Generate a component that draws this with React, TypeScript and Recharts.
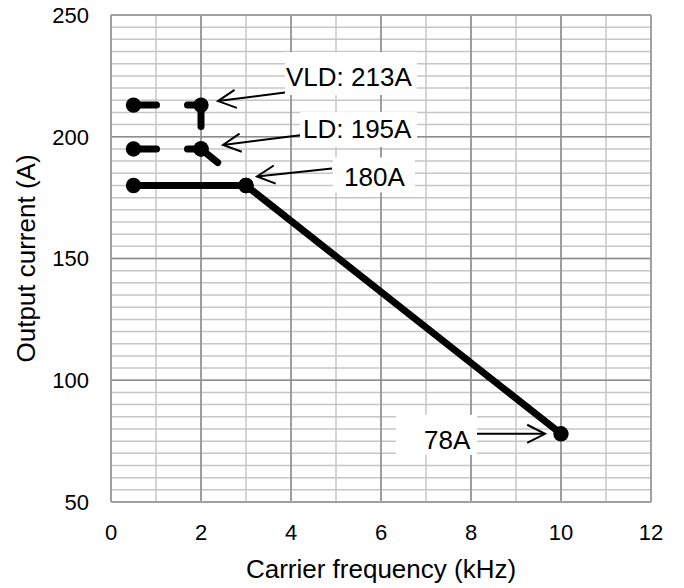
import { CartesianGrid, Line, LineChart, ReferenceDot, XAxis, YAxis } from "recharts";

// carrier frequency (kHz) vs output current (A)
const ratedFreq = [0.5, 3, 10];
const ratedCurrent = [180, 180, 78];
const ldFreq = [0.5, 2, 3];
const ldCurrent = [195, 195, 180];
const vldFreq = [0.5, 2, 2];
const vldCurrent = [213, 213, 195];

const xTicks = [0, 2, 4, 6, 8, 10, 12];
const yTicks = [50, 100, 150, 200, 250];

const calloutText = ["VLD: 213A", "LD: 195A", "180A", "78A"];
const calloutFreq = [2, 2, 3, 10];
const calloutCurrent = [213, 195, 180, 78];

const toRows = (xs: number[], ys: number[]) => xs.map((f, i) => ({ freq: f, current: ys[i] }));
const rated = toRows(ratedFreq, ratedCurrent);
const ld = toRows(ldFreq, ldCurrent);
const vld = toRows(vldFreq, vldCurrent);

// grid: 1 kHz / 5 A minor, 2 kHz / 50 A major
const minorX = Array.from({ length: 13 }, (_, i) => i);
const minorY = Array.from({ length: 41 }, (_, i) => 50 + i * 5);
const majorX = [2, 4, 6, 8, 10];
const majorY = [100, 150, 200];

const FONT = "'Liberation Sans', Arial, sans-serif";
const INK = "#000000";

// callout layout, pixel offsets from the pointed-at dot
type Layout = {
  tip: [number, number];
  tail: [number, number];
  box: [number, number, number, number];
  textAt: [number, number];
};
const layouts: Layout[] = [
  { tip: [17, -4], tail: [84, -12.5], box: [84, -53, 132, 43], textAt: [85, -19.5] },
  { tip: [22, -4], tail: [101, -14], box: [99, -37, 117, 35], textAt: [102, -11] },
  { tip: [11, -9], tail: [86, -17], box: [87, -28, 82, 35], textAt: [98, 1] },
  { tip: [-16, 0], tail: [-87, 0], box: [-165, -19, 81, 40], textAt: [-137, 15] },
];

function Callout({ cx, cy, text, layout }: { cx?: number; cy?: number; text: string; layout: Layout }) {
  if (cx == null || cy == null) return null;
  const tx = cx + layout.tip[0];
  const ty = cy + layout.tip[1];
  const sx = cx + layout.tail[0];
  const sy = cy + layout.tail[1];
  const len = Math.hypot(sx - tx, sy - ty);
  const ux = (sx - tx) / len;
  const uy = (sy - ty) / len;
  const a = (27 * Math.PI) / 180;
  const arm = 20;
  const rot = (s: number) => [
    tx + arm * (ux * Math.cos(s * a) - uy * Math.sin(s * a)),
    ty + arm * (ux * Math.sin(s * a) + uy * Math.cos(s * a)),
  ];
  const [ax, ay] = rot(1);
  const [bx, by] = rot(-1);
  return (
    <g>
      <line x1={sx} y1={sy} x2={tx} y2={ty} stroke={INK} strokeWidth={2} />
      <polyline
        points={`${ax},${ay} ${tx},${ty} ${bx},${by}`}
        fill="none"
        stroke={INK}
        strokeWidth={2}
      />
      <rect
        x={cx + layout.box[0]}
        y={cy + layout.box[1]}
        width={layout.box[2]}
        height={layout.box[3]}
        fill="#ffffff"
      />
      <text x={cx + layout.textAt[0]} y={cy + layout.textAt[1]} fontSize={26} fontFamily={FONT} fill={INK}>
        {text}
      </text>
    </g>
  );
}

export default function App() {
  const dotStyle = { r: 7.7, fill: INK, stroke: INK, strokeWidth: 0, strokeDasharray: "0" };
  return (
    <div style={{ position: "absolute", left: 0, top: 0, width: 684, height: 588, background: "#fff" }}>
      <LineChart width={684} height={588} margin={{ top: 15, right: 33, left: 0, bottom: 0 }}>
        <CartesianGrid
          horizontalValues={minorY}
          verticalValues={minorX}
          stroke="#c6c6c6"
          strokeWidth={1.5}
        />
        <CartesianGrid
          horizontalValues={majorY}
          verticalValues={majorX}
          stroke="#8c8c8c"
          strokeWidth={1.5}
        />
        <CartesianGrid horizontalValues={[250]} verticalValues={[12]} stroke="#a0a0a0" strokeWidth={2} />
        <XAxis
          type="number"
          dataKey="freq"
          domain={[0, 12]}
          ticks={xTicks}
          interval={0}
          allowDuplicatedCategory={false}
          height={86}
          tickSize={0}
          tickMargin={22}
          axisLine={{ stroke: "#a0a0a0", strokeWidth: 2 }}
          tick={{ fill: INK, fontSize: 22, fontFamily: FONT }}
          label={{
            value: "Carrier frequency (kHz)",
            position: "insideBottom",
            offset: 10,
            fill: INK,
            fontSize: 26,
            fontFamily: FONT,
          }}
        />
        <YAxis
          type="number"
          dataKey="current"
          domain={[50, 250]}
          ticks={yTicks}
          interval={0}
          width={111}
          tickSize={0}
          tickMargin={22}
          axisLine={{ stroke: "#a0a0a0", strokeWidth: 2 }}
          tick={{ fill: INK, fontSize: 22, fontFamily: FONT }}
          label={{
            value: "Output current (A)",
            angle: -90,
            position: "insideLeft",
            offset: 26,
            fill: INK,
            fontSize: 26,
            fontFamily: FONT,
            style: { textAnchor: "middle" },
          }}
        />
        <Line
          data={rated}
          dataKey="current"
          type="linear"
          stroke={INK}
          strokeWidth={7}
          dot={dotStyle}
          activeDot={false}
          isAnimationActive={false}
        />
        <Line
          data={ld}
          dataKey="current"
          type="linear"
          stroke={INK}
          strokeWidth={7}
          strokeDasharray="23 31 35 500"
          strokeLinecap="round"
          dot={dotStyle}
          activeDot={false}
          isAnimationActive={false}
        />
        <Line
          data={vld}
          dataKey="current"
          type="linear"
          stroke={INK}
          strokeWidth={7}
          strokeDasharray="23 31 35 500"
          strokeLinecap="round"
          dot={dotStyle}
          activeDot={false}
          isAnimationActive={false}
        />
        {calloutText.map((t, i) => (
          <ReferenceDot
            key={t}
            x={calloutFreq[i]}
            y={calloutCurrent[i]}
            r={0}
            shape={(p: any) => <Callout cx={p.cx} cy={p.cy} text={t} layout={layouts[i]} />}
          />
        ))}
      </LineChart>
    </div>
  );
}
